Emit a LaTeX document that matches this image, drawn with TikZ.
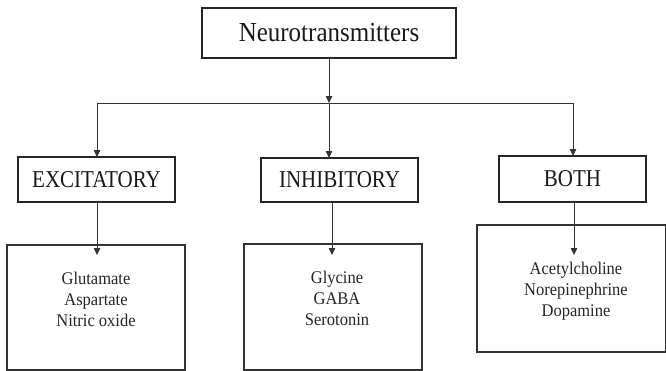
\documentclass[tikz,border=0pt]{standalone}
\usepackage{graphicx}
\usepackage{fontspec}
\setmainfont{Liberation Serif}
\usetikzlibrary{arrows.meta}
% slightly tall lettering
\newcommand{\tallhead}[1]{\scalebox{1}[1.15]{#1}}
\newcommand{\talllist}[1]{\scalebox{1}[1.08]{%
  \fontsize{16.5}{19.5}\selectfont\begin{tabular}{@{}c@{}}#1\end{tabular}}}
\begin{document}
\begin{tikzpicture}[x=1pt,y=-1pt,
  box/.style={draw=black!85,line width=1.1pt,fill=white,inner sep=0pt,outer sep=0pt},
  listbox/.style={draw=black!80,line width=1.1pt,inner sep=0pt,outer sep=0pt},
  conn/.style={draw=black!80,line width=0.8pt},
  arr/.style={conn,-{Triangle[length=7pt,width=6.5pt]}},
  items/.style={align=center,inner sep=0pt,text=black!85},
  head/.style={box,font=\fontsize{21}{24}\selectfont,text=black!90}
]
\useasboundingbox (0,0) rectangle (666,370);
\clip (0,0) rectangle (666,370);

% root
\node[box,minimum width=254pt,minimum height=50pt,
  font=\fontsize{25}{28}\selectfont,text=black!90] (root) at (329,33)
  {\scalebox{1}[1.1]{Neurotransmitters}};

% branch points on the distribution line
\coordinate (hub) at (329,103);
\coordinate (bl) at (97,103);
\coordinate (br) at (573,103);

% category boxes
\node[head,minimum width=157pt,minimum height=45pt] (exc) at (96.5,179.5) {\tallhead{EXCITATORY}};
\node[head,minimum width=157pt,minimum height=44pt] (inh) at (339.5,180) {\tallhead{INHIBITORY}};
\node[head,minimum width=147pt,minimum height=46pt] (both) at (572.5,179) {\tallhead{BOTH}};

% lists of transmitters
\node[listbox,minimum width=178pt,minimum height=125pt] (excbox) at (96,307.5) {};
\node[listbox,minimum width=178pt,minimum height=126pt] (inhbox) at (333,307) {};
\node[listbox,minimum width=189pt,minimum height=127pt] (bothbox) at (571.5,288.5) {};

\node[items] (excl) at (96,301) {\talllist{Glutamate\\Aspartate\\Nitric oxide}};
\node[items] (inhl) at (337,300) {\talllist{Glycine\\GABA\\Serotonin}};
\node[items] (bothl) at (576,291.5) {\talllist{Acetylcholine\\Norepinephrine\\Dopamine}};

% connectors
\draw[arr] (root.south) -- (hub);
\draw[conn] (bl) -- (br);
\draw[arr] (bl) -- (bl |- exc.north);
\draw[arr] (hub) -- (hub |- inh.north);
\draw[arr] (br) -- (br |- both.north);

\coordinate (ea) at (97,255);
\coordinate (ia) at (332,255);
\coordinate (ba) at (574,255);
\draw[arr] (ea |- exc.south) -- (ea);
\draw[arr] (ia |- inh.south) -- (ia);
\draw[arr] (ba |- both.south) -- (ba);
\end{tikzpicture}
\end{document}
